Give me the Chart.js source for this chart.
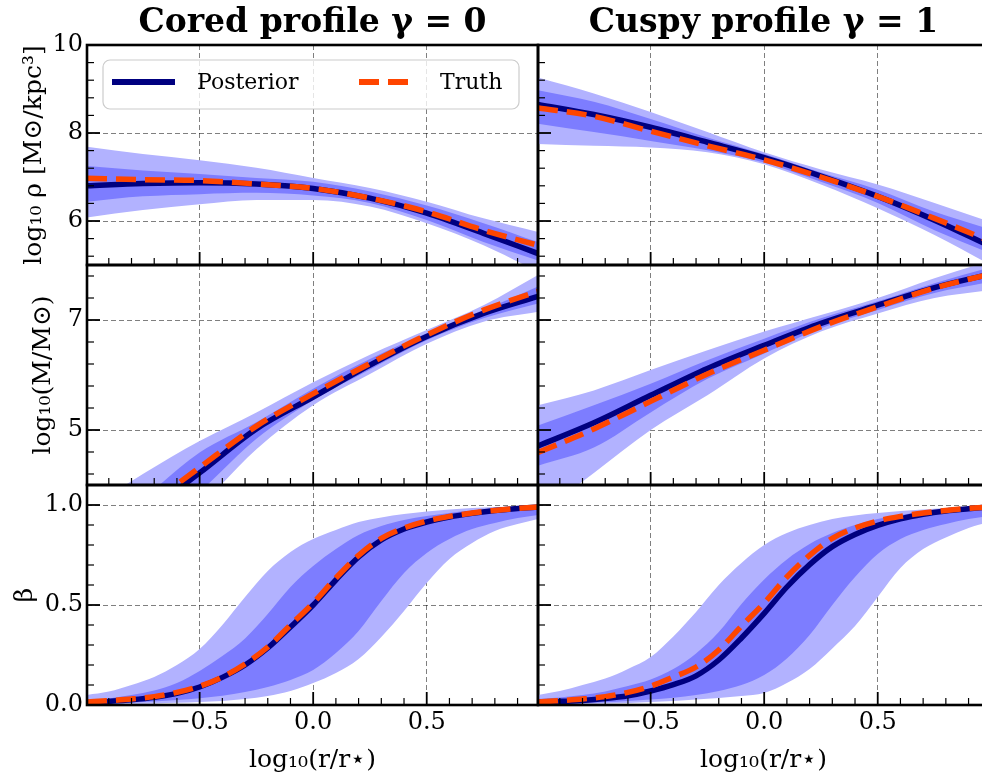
<!DOCTYPE html>
<html>
<head>
<meta charset="utf-8">
<script src="https://cdn.jsdelivr.net/npm/chart.js@4.4.1/dist/chart.umd.min.js"></script>
<style>
  html, body { margin: 0; padding: 0; background: #fff; }
  #figure { position: relative; width: 982px; height: 780px; overflow: hidden; background: #fff; }
  #figure canvas { position: absolute; left: 0; top: 0; }
</style>
</head>
<body>
<div id="figure">
  <canvas id="rho-cored" width="992" height="780"></canvas>
  <canvas id="rho-cuspy" width="992" height="780"></canvas>
  <canvas id="mass-cored" width="992" height="780"></canvas>
  <canvas id="mass-cuspy" width="992" height="780"></canvas>
  <canvas id="beta-cored" width="992" height="780"></canvas>
  <canvas id="beta-cuspy" width="992" height="780"></canvas>
</div>
<script>
// radial grid, log10(r / r_star)
const xProfile = [-0.996, -0.75, -0.5, -0.25, 0, 0.25, 0.5, 0.75, 0.99];
const xBeta = [-0.996, -0.9, -0.8, -0.7, -0.6, -0.5, -0.4, -0.3, -0.2, -0.1, 0,
  0.1, 0.2, 0.3, 0.4, 0.5, 0.6, 0.7, 0.8, 0.9, 0.99];
const xTicks = [-0.5, 0, 0.5];

// density, cored (gamma = 0)
const rhoCoredOuterHi = [7.69, 7.52, 7.38, 7.21, 6.98, 6.75, 6.44, 6.06, 5.75];
const rhoCoredOuterLo = [6.08, 6.25, 6.38, 6.48, 6.48, 6.33, 5.95, 5.45, 4.85];
const rhoCoredInnerHi = [7.25, 7.15, 7.07, 6.98, 6.89, 6.67, 6.35, 5.95, 5.52];
const rhoCoredInnerLo = [6.44, 6.56, 6.61, 6.64, 6.58, 6.41, 6.02, 5.52, 5.10];
const rhoCoredPost = [6.80, 6.85, 6.87, 6.84, 6.74, 6.52, 6.18, 5.72, 5.26];
const rhoCoredTruth = [6.97, 6.94, 6.92, 6.84, 6.74, 6.52, 6.21, 5.79, 5.45];

// density, cuspy (gamma = 1)
const rhoCuspyOuterHi = [9.26, 8.90, 8.48, 8.02, 7.56, 7.17, 6.83, 6.41, 5.99];
const rhoCuspyOuterLo = [7.75, 7.71, 7.67, 7.56, 7.29, 6.83, 6.29, 5.68, 5.02];
const rhoCuspyInnerHi = [8.97, 8.71, 8.32, 7.90, 7.52, 7.10, 6.71, 6.21, 5.82];
const rhoCuspyInnerLo = [8.21, 8.02, 7.82, 7.61, 7.33, 6.89, 6.41, 5.79, 5.28];
const rhoCuspyPost = [8.65, 8.42, 8.13, 7.79, 7.44, 7.02, 6.56, 6.02, 5.44];
const rhoCuspyTruth = [8.57, 8.38, 8.04, 7.71, 7.39, 7.00, 6.56, 6.06, 5.55];

// enclosed mass, cored
const massCoredOuterHi = [3.55, 4.20, 4.80, 5.32, 5.87, 6.37, 6.82, 7.27, 7.82];
const massCoredOuterLo = [2.00, 2.80, 3.62, 4.65, 5.45, 6.02, 6.57, 6.97, 7.15];
const massCoredInnerHi = [3.00, 3.75, 4.59, 5.14, 5.75, 6.29, 6.76, 7.18, 7.61];
const massCoredInnerLo = [2.30, 3.10, 3.88, 4.84, 5.54, 6.10, 6.63, 7.03, 7.30];
const massCoredPost = [2.70, 3.45, 4.22, 5.02, 5.60, 6.18, 6.70, 7.12, 7.43];
const massCoredTruth = [2.80, 3.55, 4.32, 5.07, 5.66, 6.21, 6.73, 7.18, 7.52];

// enclosed mass, cuspy
const massCuspyOuterHi = [5.45, 5.72, 6.09, 6.45, 6.79, 7.09, 7.40, 7.76, 8.07];
const massCuspyOuterLo = [3.45, 4.22, 5.00, 5.63, 6.30, 6.79, 7.12, 7.40, 7.54];
const massCuspyInnerHi = [5.08, 5.45, 5.84, 6.27, 6.66, 7.03, 7.34, 7.67, 7.95];
const massCuspyInnerLo = [4.35, 4.68, 5.32, 5.93, 6.39, 6.85, 7.18, 7.49, 7.69];
const massCuspyPost = [4.71, 5.13, 5.63, 6.12, 6.54, 6.94, 7.27, 7.59, 7.83];
const massCuspyTruth = [4.59, 5.02, 5.52, 6.02, 6.45, 6.88, 7.24, 7.58, 7.83];

// anisotropy, cored
const betaCoredOuterHi = [0.05, 0.067, 0.10, 0.14, 0.20, 0.28, 0.40, 0.54, 0.67, 0.765, 0.83,
  0.875, 0.915, 0.938, 0.955, 0.968, 0.978, 0.985, 0.99, 0.993, 0.995];
const betaCoredInnerHi = [0.025, 0.033, 0.05, 0.072, 0.11, 0.17, 0.245, 0.333, 0.455, 0.59, 0.695,
  0.78, 0.85, 0.895, 0.925, 0.945, 0.96, 0.972, 0.98, 0.986, 0.99];
const betaCoredPost = [0.012, 0.018, 0.026, 0.038, 0.058, 0.09, 0.138, 0.20, 0.285, 0.39, 0.50,
  0.625, 0.74, 0.825, 0.88, 0.915, 0.94, 0.958, 0.972, 0.983, 0.99];
const betaCoredTruth = [0.015, 0.022, 0.03, 0.042, 0.063, 0.094, 0.14, 0.205, 0.29, 0.40, 0.51,
  0.635, 0.748, 0.833, 0.885, 0.92, 0.943, 0.96, 0.973, 0.983, 0.99];
const betaCoredInnerLo = [0.006, 0.009, 0.013, 0.018, 0.025, 0.034, 0.046, 0.065, 0.09, 0.125, 0.175,
  0.26, 0.37, 0.52, 0.66, 0.76, 0.83, 0.88, 0.91, 0.935, 0.95];
const betaCoredOuterLo = [0.003, 0.004, 0.006, 0.008, 0.011, 0.015, 0.02, 0.03, 0.045, 0.07, 0.11,
  0.16, 0.23, 0.34, 0.47, 0.61, 0.73, 0.81, 0.87, 0.905, 0.93];

// anisotropy, cuspy
const betaCuspyOuterHi = [0.05, 0.07, 0.10, 0.132, 0.18, 0.24, 0.343, 0.465, 0.60, 0.71, 0.80,
  0.86, 0.90, 0.93, 0.948, 0.96, 0.97, 0.978, 0.985, 0.99, 0.993];
const betaCuspyInnerHi = [0.03, 0.038, 0.05, 0.068, 0.095, 0.127, 0.18, 0.258, 0.365, 0.505, 0.628,
  0.728, 0.805, 0.86, 0.90, 0.93, 0.95, 0.965, 0.975, 0.983, 0.988];
const betaCuspyPost = [0.015, 0.018, 0.023, 0.032, 0.046, 0.07, 0.102, 0.146, 0.225, 0.335, 0.458,
  0.59, 0.702, 0.792, 0.853, 0.898, 0.931, 0.954, 0.97, 0.981, 0.99];
const betaCuspyTruth = [0.015, 0.022, 0.03, 0.042, 0.063, 0.094, 0.14, 0.19, 0.275, 0.395, 0.51,
  0.64, 0.748, 0.833, 0.885, 0.92, 0.943, 0.96, 0.973, 0.983, 0.99];
const betaCuspyInnerLo = [0.005, 0.007, 0.01, 0.014, 0.02, 0.027, 0.036, 0.05, 0.07, 0.10, 0.15,
  0.233, 0.35, 0.50, 0.64, 0.755, 0.83, 0.875, 0.905, 0.93, 0.945];
const betaCuspyOuterLo = [0.002, 0.003, 0.005, 0.007, 0.01, 0.015, 0.02, 0.027, 0.035, 0.045, 0.06,
  0.11, 0.18, 0.283, 0.395, 0.54, 0.685, 0.78, 0.838, 0.885, 0.915];

const SERIF = "'DejaVu Serif', 'Liberation Serif', serif";
const COLORS = {
  outer: "#b2b2ff",
  inner: "#7d7dff",
  posterior: "#000080",
  truth: "#ff4500",
  grid: "rgba(0,0,0,0.5)",
};
const X_MIN = -0.996;
const X_MAX = 0.99;
const CANVAS_W = 992;
const CANVAS_H = 780;
const ROWS = [{ top: 45, bottom: 265 }, { top: 265, bottom: 485 }, { top: 485, bottom: 705 }];
const COLS = [{ left: 87, right: 538 }, { left: 538, right: 989 }];

const fmtSigned = (v) => (v < 0 ? "\u2212" : "") + Math.abs(v).toFixed(1);
const fmtInt = (v) => String(v);

function pts(xs, ys) {
  return xs.map((x, i) => ({ x, y: ys[i] }));
}

// dataset order: index 0 is drawn last (on top)
function buildDatasets(xs, truth, post, innerLo, innerHi, outerLo, outerHi) {
  const band = { borderWidth: 0, borderColor: "rgba(0,0,0,0)", pointRadius: 0 };
  return [
    { label: "Truth", data: pts(xs, truth), borderColor: COLORS.truth, borderWidth: 5.5, borderDash: [20, 9], fill: false },
    { label: "Posterior", data: pts(xs, post), borderColor: COLORS.posterior, borderWidth: 5.5, fill: false },
    { ...band, label: "68%", data: pts(xs, innerLo), backgroundColor: COLORS.inner, fill: "+1" },
    { ...band, label: "68% hi", data: pts(xs, innerHi), fill: false },
    { ...band, label: "95%", data: pts(xs, outerLo), backgroundColor: COLORS.outer, fill: "+1" },
    { ...band, label: "95% hi", data: pts(xs, outerHi), fill: false },
  ];
}

function stepValues(anchor, step, min, max) {
  const out = [];
  for (let k = -60; k <= 60; k++) {
    const v = +(anchor + k * step).toFixed(6);
    if (v > min + 1e-6 && v < max - 1e-6) out.push(v);
  }
  return out;
}

function drawLegend(chart, a) {
  const ctx = chart.ctx;
  const bx = a.left + 16, by = a.top + 15, bw = 416, bh = 49;
  ctx.beginPath();
  ctx.roundRect(bx, by, bw, bh, 7);
  ctx.fillStyle = "rgba(255,255,255,0.8)";
  ctx.fill();
  ctx.lineWidth = 1.2;
  ctx.strokeStyle = "#cccccc";
  ctx.stroke();

  const entries = [
    { ds: chart.data.datasets[1], x0: 25, x1: 88, tx: 110 },
    { ds: chart.data.datasets[0], x0: 272, x1: 323, tx: 353 },
  ];
  ctx.font = "22px " + SERIF;
  ctx.textBaseline = "middle";
  ctx.textAlign = "left";
  entries.forEach((e) => {
    ctx.save();
    ctx.strokeStyle = e.ds.borderColor;
    ctx.lineWidth = 6;
    ctx.setLineDash(e.ds.borderDash || []);
    ctx.beginPath();
    ctx.moveTo(a.left + e.x0, a.top + 37);
    ctx.lineTo(a.left + e.x1, a.top + 37);
    ctx.stroke();
    ctx.restore();
    ctx.fillStyle = "#000";
    ctx.fillText(e.ds.label, a.left + e.tx, a.top + 38);
  });
}

// inward ticks, panel frame and in-panel legend
const panelFrame = {
  id: "panelFrame",
  afterDraw(chart, args, opts) {
    const { ctx, chartArea: a } = chart;
    const xs = chart.scales.x;
    const ys = chart.scales.y;
    ctx.save();
    ctx.strokeStyle = "#000";
    const line = (x0, y0, x1, y1, w) => {
      ctx.lineWidth = w;
      ctx.beginPath();
      ctx.moveTo(x0, y0);
      ctx.lineTo(x1, y1);
      ctx.stroke();
    };
    stepValues(0, 0.1, X_MIN, X_MAX).forEach((v) => {
      const px = xs.getPixelForValue(v);
      const major = xTicks.some((m) => Math.abs(m - v) < 1e-6);
      line(px, a.bottom, px, a.bottom - (major ? 13 : 7), major ? 1.8 : 1.2);
    });
    stepValues(opts.yMajor[0], opts.yMinorStep, ys.min, ys.max).forEach((v) => {
      const py = ys.getPixelForValue(v);
      const major = opts.yMajor.some((m) => Math.abs(m - v) < 1e-6);
      line(a.left, py, a.left + (major ? 13 : 7), py, major ? 1.8 : 1.2);
    });
    ctx.lineWidth = 2.6;
    ctx.strokeRect(a.left, a.top, a.right - a.left, a.bottom - a.top);
    if (opts.legend) drawLegend(chart, a);
    ctx.restore();
  },
};

const panels = [
  {
    id: "rho-cored", row: 0, col: 0, xs: xProfile,
    sets: [rhoCoredTruth, rhoCoredPost, rhoCoredInnerLo, rhoCoredInnerHi, rhoCoredOuterLo, rhoCoredOuterHi],
    yMin: 5, yMax: 10, yMajor: [6, 8, 10], yMinorStep: 0.4, fmt: fmtInt,
    yTitle: "log\u2081\u2080 \u03c1 [M\u2299/kpc\u00b3]", yTitlePad: 19,
    title: "Cored profile \u03b3 = 0", legend: true,
  },
  {
    id: "rho-cuspy", row: 0, col: 1, xs: xProfile,
    sets: [rhoCuspyTruth, rhoCuspyPost, rhoCuspyInnerLo, rhoCuspyInnerHi, rhoCuspyOuterLo, rhoCuspyOuterHi],
    yMin: 5, yMax: 10, yMajor: [6, 8, 10], yMinorStep: 0.4, fmt: fmtInt,
    title: "Cuspy profile \u03b3 = 1",
  },
  {
    id: "mass-cored", row: 1, col: 0, xs: xProfile,
    sets: [massCoredTruth, massCoredPost, massCoredInnerLo, massCoredInnerHi, massCoredOuterLo, massCoredOuterHi],
    yMin: 4, yMax: 8, yMajor: [5, 7], yMinorStep: 0.4, fmt: fmtInt,
    yTitle: "log\u2081\u2080(M/M\u2299)", yTitlePad: 28,
  },
  {
    id: "mass-cuspy", row: 1, col: 1, xs: xProfile,
    sets: [massCuspyTruth, massCuspyPost, massCuspyInnerLo, massCuspyInnerHi, massCuspyOuterLo, massCuspyOuterHi],
    yMin: 4, yMax: 8, yMajor: [5, 7], yMinorStep: 0.4, fmt: fmtInt,
  },
  {
    id: "beta-cored", row: 2, col: 0, xs: xBeta,
    sets: [betaCoredTruth, betaCoredPost, betaCoredInnerLo, betaCoredInnerHi, betaCoredOuterLo, betaCoredOuterHi],
    yMin: 0, yMax: 1.1, yMajor: [0, 0.5, 1.0], yMinorStep: 0.1, fmt: fmtSigned,
    yTitle: "\u03b2", yTitlePad: 10,
  },
  {
    id: "beta-cuspy", row: 2, col: 1, xs: xBeta,
    sets: [betaCuspyTruth, betaCuspyPost, betaCuspyInnerLo, betaCuspyInnerHi, betaCuspyOuterLo, betaCuspyOuterHi],
    yMin: 0, yMax: 1.1, yMajor: [0, 0.5, 1.0], yMinorStep: 0.1, fmt: fmtSigned,
  },
];

panels.forEach((p) => {
  const row = ROWS[p.row];
  const col = COLS[p.col];
  const leftCol = p.col === 0;
  const topRow = p.row === 0;
  const bottomRow = p.row === ROWS.length - 1;
  const gridOpts = { color: COLORS.grid, lineWidth: 1, drawTicks: false };
  const borderOpts = { display: false, dash: [5, 3] };

  new Chart(document.getElementById(p.id), {
    type: "line",
    data: { datasets: buildDatasets(p.xs, ...p.sets) },
    options: {
      responsive: false,
      animation: false,
      devicePixelRatio: 1,
      events: [],
      elements: {
        point: { radius: 0 },
        line: { cubicInterpolationMode: "monotone" },
      },
      layout: {
        padding: {
          left: leftCol ? 0 : col.left,
          right: CANVAS_W - col.right,
          top: topRow ? 0 : row.top,
          bottom: bottomRow ? 0 : CANVAS_H - row.bottom,
        },
      },
      scales: {
        x: {
          type: "linear",
          min: X_MIN,
          max: X_MAX,
          afterBuildTicks: (s) => { s.ticks = xTicks.map((v) => ({ value: v })); },
          afterFit: (s) => { s.height = bottomRow ? CANVAS_H - row.bottom : 0; },
          grid: gridOpts,
          border: borderOpts,
          ticks: {
            display: bottomRow,
            padding: 3,
            color: "#000",
            font: { family: SERIF, size: 24 },
            maxRotation: 0,
            callback: (v) => fmtSigned(v),
          },
          title: {
            display: bottomRow,
            text: "log\u2081\u2080(r/r\u22c6)",
            color: "#000",
            font: { family: SERIF, size: 25 },
            padding: { top: 0, bottom: 5 },
          },
        },
        y: {
          type: "linear",
          min: p.yMin,
          max: p.yMax,
          afterBuildTicks: (s) => { s.ticks = p.yMajor.map((v) => ({ value: v })); },
          afterFit: (s) => { s.width = leftCol ? col.left : 0; },
          grid: gridOpts,
          border: borderOpts,
          ticks: {
            display: leftCol,
            padding: 4,
            color: "#000",
            font: { family: SERIF, size: 24 },
            callback: (v) => p.fmt(v),
          },
          title: {
            display: leftCol && !!p.yTitle,
            text: p.yTitle || "",
            color: "#000",
            font: { family: SERIF, size: 25 },
            padding: { top: p.yTitlePad || 0, bottom: 0 },
          },
        },
      },
      plugins: {
        legend: { display: false },
        tooltip: { enabled: false },
        title: {
          display: topRow,
          text: p.title || "",
          fullSize: false,
          color: "#000",
          font: { family: SERIF, size: 33, weight: "bold" },
          padding: { top: 3.2, bottom: 2.2 },
        },
        panelFrame: {
          yMajor: p.yMajor,
          yMinorStep: p.yMinorStep,
          legend: !!p.legend,
        },
      },
    },
    plugins: [panelFrame],
  });
});
</script>
</body>
</html>
